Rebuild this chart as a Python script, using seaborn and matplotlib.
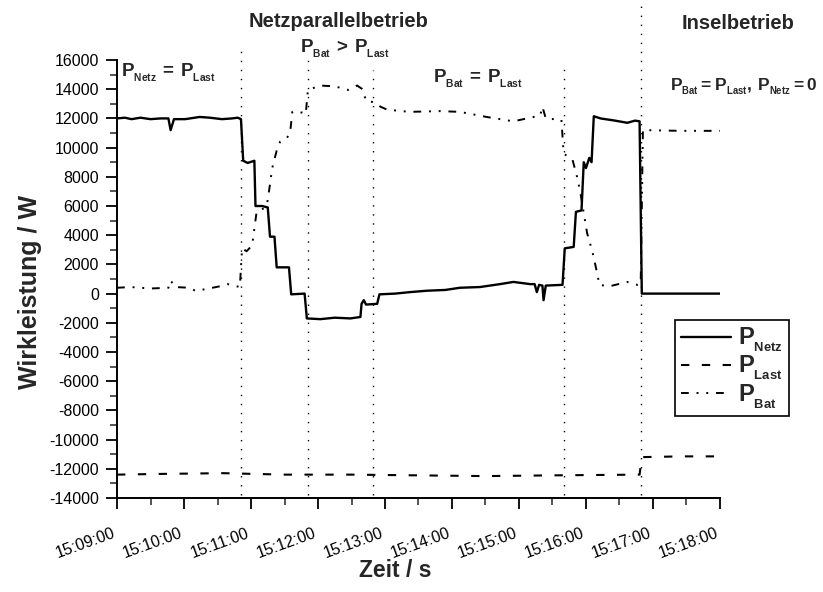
import pandas as pd
import matplotlib
matplotlib.use('Agg')
import matplotlib.pyplot as plt
import matplotlib.dates as mdates
import matplotlib._mathtext as mathtext_core
import seaborn as sns

netz_time = ['15:09:00', '15:09:07', '15:09:13', '15:09:21', '15:09:30', '15:09:39', '15:09:46',
             '15:09:48', '15:09:51', '15:10:01', '15:10:14', '15:10:23', '15:10:34', '15:10:43',
             '15:10:48', '15:10:51', '15:10:53', '15:10:57', '15:11:03', '15:11:04', '15:11:10',
             '15:11:15', '15:11:17', '15:11:21', '15:11:23', '15:11:34', '15:11:36', '15:11:48',
             '15:11:50', '15:12:02', '15:12:15', '15:12:29', '15:12:38', '15:12:39', '15:12:41',
             '15:12:43', '15:12:53', '15:12:55', '15:13:09', '15:13:22', '15:13:38', '15:13:54',
             '15:14:07', '15:14:25', '15:14:43', '15:14:55', '15:15:10', '15:15:14', '15:15:16',
             '15:15:18', '15:15:21', '15:15:22', '15:15:24', '15:15:39', '15:15:41', '15:15:49',
             '15:15:51', '15:15:56', '15:15:58', '15:16:00', '15:16:03', '15:16:05', '15:16:07',
             '15:16:13', '15:16:26', '15:16:37', '15:16:44', '15:16:48', '15:16:50', '15:18:00']
netz_power = [12000, 12050, 11950, 12050, 11950, 12000, 12000,
              11200, 11950, 11950, 12100, 12050, 11950, 12000,
              12050, 11950, 9100, 8950, 9100, 6000, 6000,
              5900, 3900, 3900, 1800, 1800, -50, 0,
              -1700, -1750, -1650, -1700, -1600, -700, -450,
              -750, -700, -50, 0, 100, 200, 250,
              400, 450, 650, 800, 650, 650, 100,
              600, 550, -450, 550, 600, 3100, 3200,
              5600, 5700, 9000, 8600, 9300, 9000, 12150,
              12000, 11850, 11700, 11850, 11800, 0, 0]

bat_time = ['15:09:00', '15:09:12', '15:09:30', '15:09:46', '15:09:48', '15:09:52', '15:10:05',
            '15:10:10', '15:10:19', '15:10:32', '15:10:39', '15:10:50', '15:10:52', '15:10:56',
            '15:11:01', '15:11:05', '15:11:13', '15:11:15', '15:11:19', '15:11:23', '15:11:26',
            '15:11:32', '15:11:35', '15:11:37', '15:11:46', '15:11:49', '15:11:51', '15:12:02',
            '15:12:15', '15:12:27', '15:12:35', '15:12:40', '15:12:43', '15:12:51', '15:12:56',
            '15:13:02', '15:13:22', '15:13:49', '15:14:07', '15:14:31', '15:14:55', '15:15:13',
            '15:15:19', '15:15:21', '15:15:24', '15:15:38', '15:15:40', '15:15:48', '15:15:52',
            '15:15:55', '15:16:01', '15:16:06', '15:16:10', '15:16:12', '15:16:21', '15:16:37',
            '15:16:46', '15:16:49', '15:16:51', '15:17:24', '15:18:00']
bat_power = [400, 450, 350, 400, 900, 450, 400,
             200, 300, 500, 650, 450, 3100, 2900,
             3300, 5600, 5900, 6400, 8600, 9800, 10400,
             10650, 11000, 12450, 12400, 12300, 13950, 14250,
             14200, 13950, 14250, 14000, 13200, 13100, 12800,
             12600, 12450, 12500, 12450, 12100, 11800, 12100,
             12200, 12800, 12000, 11900, 9600, 9150, 8000,
             6900, 4150, 2800, 1400, 600, 500, 800,
             600, 650, 11200, 11150, 11150]

last_time = ['15:09:00', '15:09:40', '15:10:35', '15:11:30', '15:12:30', '15:13:30',
             '15:14:30', '15:15:30', '15:16:48', '15:16:50', '15:17:25', '15:18:00']
last_power = [-12400, -12350, -12300, -12400, -12400, -12450,
              -12500, -12450, -12400, -11200, -11150, -11150]

phase_changes = ['15:10:51', '15:11:51', '15:12:49', '15:15:40', '15:16:49']
x_start, x_end = '15:09:00', '15:18:00'


def to_dt(times):
    return pd.to_datetime(['2000-01-01 ' + t for t in times])


df_netz = pd.DataFrame({'Zeit': to_dt(netz_time), 'P': netz_power})
df_bat = pd.DataFrame({'Zeit': to_dt(bat_time), 'P': bat_power})
df_last = pd.DataFrame({'Zeit': to_dt(last_time), 'P': last_power})

sns.set_style('ticks')
plt.rcParams['font.family'] = ['Liberation Sans', 'DejaVu Sans']
plt.rcParams['mathtext.fontset'] = 'custom'
plt.rcParams['mathtext.rm'] = 'Liberation Sans'
plt.rcParams['mathtext.bf'] = 'Liberation Sans:bold'
plt.rcParams['axes.unicode_minus'] = False
# kleinere, tiefer gesetzte Indizes wie im Original
mathtext_core.SHRINK_FACTOR = 0.55
mathtext_core.FontConstantsBase.sub1 = 0.55

fig = plt.figure(figsize=(8.23, 5.92), dpi=100)
ax = fig.add_axes([0.1422, 0.1588, 0.7326, 0.7398])

sns.lineplot(data=df_netz, x='Zeit', y='P', ax=ax, color='black', lw=1.7,
             estimator=None, sort=False, label=r'$\mathbf{P_{Netz}}$')
sns.lineplot(data=df_last, x='Zeit', y='P', ax=ax, color='black', lw=1.5,
             estimator=None, sort=False, linestyle=(0, (4, 6)), label=r'$\mathbf{P_{Last}}$')
sns.lineplot(data=df_bat, x='Zeit', y='P', ax=ax, color='black', lw=1.4,
             estimator=None, sort=False, linestyle=(0, (4, 4, 1, 4, 1, 4)),
             label=r'$\mathbf{P_{Bat}}$')

# Phasengrenzen (gepunktet)
line_tops = [16700, 16500, 15300, 15650, 20100]
for t, top in zip(to_dt(phase_changes), line_tops):
    ax.plot([t, t], [-13800, top], color='black', lw=1.0, linestyle=(0, (1, 5.5)),
            clip_on=False)

ax.set_xlim(to_dt([x_start])[0], to_dt([x_end])[0])
ax.set_ylim(-14000, 16000)
ax.set_yticks(range(-14000, 16001, 2000))
ax.yaxis.set_minor_locator(matplotlib.ticker.MultipleLocator(1000))
ax.xaxis.set_major_locator(mdates.MinuteLocator())
ax.xaxis.set_minor_locator(mdates.SecondLocator(bysecond=[30]))
ax.xaxis.set_major_formatter(mdates.DateFormatter('%H:%M:%S'))

ax.tick_params(axis='both', which='major', length=8, width=1.3, labelsize=11.5,
               colors='black', direction='out')
ax.tick_params(axis='both', which='minor', length=5, width=1.1, direction='out')
ax.tick_params(axis='x', pad=12)
ax.tick_params(axis='y', pad=5)
plt.setp(ax.get_xticklabels(), rotation=20, ha='right')
sns.despine(ax=ax)
for side in ['left', 'bottom']:
    ax.spines[side].set_linewidth(1.4)
    ax.spines[side].set_color('black')

ax.set_xlabel('Zeit / s', fontsize=16.5, fontweight='bold')
ax.xaxis.set_label_coords(0.461, -0.14)
ax.set_ylabel('Wirkleistung / W', fontsize=18, fontweight='bold')
ax.yaxis.set_label_coords(-0.124, 0.47)

leg = ax.legend(loc='upper right', bbox_to_anchor=(1.114, 0.406), borderaxespad=0,
                prop={'size': 17}, handlelength=2.1, handletextpad=0.3,
                labelspacing=0.0, borderpad=0.25, fancybox=False, framealpha=1)
leg.get_frame().set_edgecolor('black')
leg.get_frame().set_linewidth(1.2)

fig.text(0.411, 1 - 27 / 592, 'Netzparallelbetrieb', fontsize=14.5, fontweight='bold',
         ha='center', va='baseline')
fig.text(0.897, 1 - 29 / 592, 'Inselbetrieb', fontsize=14.5, fontweight='bold',
         ha='center', va='baseline')
fig.text(121 / 823, 1 - 77 / 592, r'$\mathbf{P_{Netz}\,=\,P_{Last}}$', fontsize=13.5,
         ha='left', va='baseline')
fig.text(300 / 823, 1 - 53 / 592, r'$\mathbf{P_{Bat}\,>\,P_{Last}}$', fontsize=13.5,
         ha='left', va='baseline')
fig.text(433 / 823, 1 - 82 / 592, r'$\mathbf{P_{Bat}\,=\,P_{Last}}$', fontsize=13.5,
         ha='left', va='baseline')
fig.text(670 / 823, 1 - 90 / 592, r'$\mathbf{P_{Bat}=P_{Last},\,P_{Netz}=0}$',
         fontsize=12.5, ha='left', va='baseline')

fig.savefig('out.png', dpi=100)
